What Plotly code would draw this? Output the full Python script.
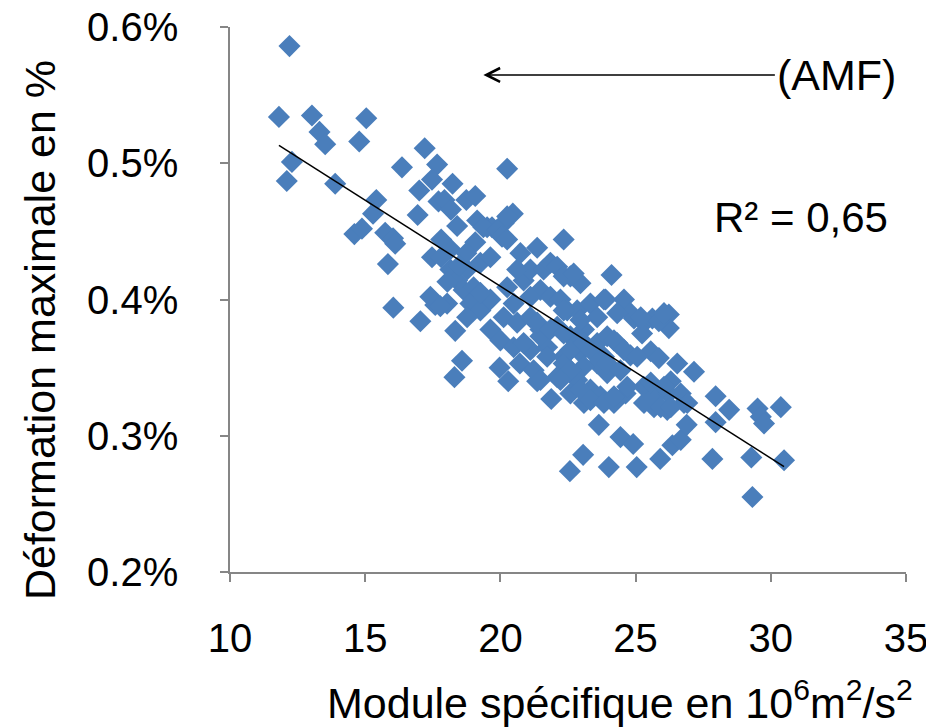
import numpy as np
import plotly.graph_objects as go

# Module spécifique (10^6 m²/s²) and déformation maximale (%)
mod_isolated = [12.20, 11.81, 13.03, 15.04, 13.31, 13.52, 14.78, 12.29, 12.10, 13.89,
                16.36, 17.20, 17.66, 17.47, 17.00, 15.41, 15.29, 16.94, 17.71, 14.60,
                14.88, 15.74, 16.03, 16.11, 15.84, 17.47, 20.25, 18.23, 17.93, 18.74,
                19.07, 18.17, 18.40, 19.14, 19.51, 20.46, 20.12, 19.69, 19.07, 22.34,
                18.15, 16.04, 17.04, 17.59, 18.03, 18.33, 18.58, 18.30, 19.97, 20.72,
                20.29, 21.36, 21.88, 23.64, 23.06, 22.57, 24.01, 25.04, 25.91, 24.44,
                24.91, 26.36, 26.67, 24.11, 27.84, 29.28, 30.49, 29.32, 27.96, 28.46,
                29.51, 29.63, 29.75, 30.37, 27.96, 26.89, 27.16, 26.54, 26.30, 26.79,
                25.68, 26.17, 24.63, 24.20, 25.30, 25.74, 26.22, 26.23, 26.23, 24.94,
                25.31, 25.62, 25.86, 25.24, 24.32, 24.81, 25.56, 25.86, 24.57, 23.89]
def_isolated = [0.586, 0.534, 0.535, 0.533, 0.523, 0.514, 0.516, 0.501, 0.487, 0.485,
                0.497, 0.511, 0.499, 0.488, 0.480, 0.473, 0.463, 0.462, 0.472, 0.448,
                0.452, 0.449, 0.445, 0.441, 0.426, 0.431, 0.496, 0.485, 0.473, 0.473,
                0.476, 0.466, 0.454, 0.458, 0.453, 0.463, 0.456, 0.453, 0.442, 0.444,
                0.437, 0.394, 0.384, 0.396, 0.397, 0.377, 0.355, 0.343, 0.350, 0.353,
                0.340, 0.340, 0.327, 0.308, 0.286, 0.274, 0.277, 0.277, 0.283, 0.299,
                0.294, 0.293, 0.297, 0.418, 0.283, 0.284, 0.282, 0.255, 0.329, 0.319,
                0.320, 0.314, 0.309, 0.321, 0.310, 0.308, 0.347, 0.353, 0.340, 0.324,
                0.321, 0.319, 0.331, 0.324, 0.336, 0.330, 0.331, 0.389, 0.379, 0.386,
                0.383, 0.386, 0.384, 0.375, 0.368, 0.359, 0.362, 0.357, 0.400, 0.400]

mod_cluster = [20.25, 19.37, 19.88, 20.06, 20.74, 21.36, 20.25, 19.26, 19.63, 18.77,
               18.15, 18.40, 18.64, 19.01, 17.41, 17.78, 18.89, 19.26, 19.63, 20.25,
               20.86, 21.11, 20.62, 21.60, 21.85, 22.10, 22.59, 22.96, 21.48, 21.85,
               22.22, 22.47, 22.84, 23.33, 23.83, 20.49, 20.12, 20.62, 21.11, 21.48,
               22.10, 22.59, 23.09, 19.63, 20.00, 20.49, 21.11, 21.73, 22.34, 22.96,
               23.58, 23.95, 19.26, 18.77, 20.86, 21.48, 21.23, 21.73, 22.34, 22.10,
               22.59, 23.09, 23.83, 22.84, 23.33, 23.09, 23.70, 23.95, 22.59, 22.34,
               22.71, 21.11, 24.81, 24.32, 25.19, 26.05, 23.58, 22.96, 22.34, 21.36,
               21.85, 22.34, 24.20, 24.57, 25.06, 23.33, 23.58, 23.09, 23.95, 24.44,
               24.69, 22.59, 22.22, 21.48, 22.96, 23.33, 23.83, 24.20, 25.56, 26.05,
               26.67, 26.91, 25.31, 25.93, 26.30, 17.81, 18.74, 18.48, 18.04, 17.81]
def_cluster = [0.461, 0.453, 0.451, 0.446, 0.434, 0.438, 0.444, 0.427, 0.431, 0.422,
               0.422, 0.414, 0.407, 0.409, 0.402, 0.395, 0.397, 0.392, 0.400, 0.409,
               0.414, 0.422, 0.422, 0.422, 0.427, 0.424, 0.417, 0.412, 0.407, 0.402,
               0.400, 0.392, 0.392, 0.397, 0.400, 0.397, 0.387, 0.383, 0.387, 0.378,
               0.380, 0.373, 0.378, 0.378, 0.370, 0.365, 0.363, 0.365, 0.358, 0.361,
               0.368, 0.373, 0.405, 0.387, 0.368, 0.373, 0.348, 0.358, 0.353, 0.343,
               0.363, 0.368, 0.358, 0.341, 0.334, 0.324, 0.329, 0.346, 0.331, 0.417,
               0.419, 0.402, 0.390, 0.390, 0.387, 0.390, 0.387, 0.385, 0.392, 0.383,
               0.378, 0.375, 0.370, 0.363, 0.358, 0.363, 0.353, 0.351, 0.353, 0.348,
               0.336, 0.348, 0.341, 0.341, 0.334, 0.326, 0.324, 0.329, 0.339, 0.336,
               0.331, 0.324, 0.324, 0.321, 0.321, 0.431, 0.434, 0.425, 0.413, 0.444]

x_ticks = [10, 15, 20, 25, 30, 35]
y_ticks = [0.002, 0.003, 0.004, 0.005, 0.006]
y_tick_labels = ["0.2%", "0.3%", "0.4%", "0.5%", "0.6%"]
r2_label = "R² = 0,65"
amf_label = "(AMF)"
x_title = "Module spécifique en 10<sup>6</sup>m<sup>2</sup>/s<sup>2</sup>"
y_title = "Déformation maximale en %"

x = np.array(mod_isolated + mod_cluster)
y = np.array(def_isolated + def_cluster) / 100.0

slope, intercept = np.polyfit(x, y, 1)
xl = np.array([x.min(), x.max()])
yl = slope * xl + intercept

FONT = "Liberation Sans"
BLUE = "#4a7ebb"
AXIS = "#868686"

fig = go.Figure()
fig.add_trace(go.Scatter(x=x, y=y, mode="markers",
                         marker=dict(symbol="diamond", size=17, color=BLUE, line=dict(width=0)),
                         hoverinfo="skip", showlegend=False, cliponaxis=False))
fig.add_trace(go.Scatter(x=xl, y=yl, mode="lines", line=dict(color="black", width=1.5),
                         hoverinfo="skip", showlegend=False))

fig.update_layout(
    width=926, height=719,
    margin=dict(l=222, r=28, t=19, b=155),
    paper_bgcolor="white", plot_bgcolor="white",
    font=dict(family=FONT, size=40, color="black"),
    showlegend=False,
)
fig.update_xaxes(range=[10, 35], tickvals=x_ticks, showgrid=False, zeroline=False,
                 showline=True, linecolor=AXIS, linewidth=1.5, automargin=False,
                 ticks="outside", ticklen=8, tickcolor=AXIS, tickwidth=1.5,
                 ticklabeloverflow="allow",
                 tickfont=dict(size=40, family=FONT), ticklabelstandoff=22)
fig.update_yaxes(range=[0.002, 0.006], tickvals=y_ticks, ticktext=y_tick_labels,
                 showgrid=False, zeroline=False, automargin=False,
                 showline=True, linecolor=AXIS, linewidth=1.5,
                 ticks="outside", ticklen=8, tickcolor=AXIS, tickwidth=1.5,
                 ticklabeloverflow="allow",
                 tickfont=dict(size=40, family=FONT), ticklabelstandoff=34)

fig.add_annotation(x=19.37, y=0.005648, xref="x", yref="y",
                   ax=30.15, ay=0.005648, axref="x", ayref="y",
                   text=amf_label, showarrow=True, arrowhead=5, arrowsize=1.8,
                   arrowwidth=1.5, arrowcolor="black",
                   font=dict(size=43, family=FONT), xanchor="left")
fig.add_annotation(x=31.1, y=0.0046, xref="x", yref="y", text=r2_label,
                   showarrow=False, font=dict(size=42, family=FONT))
fig.add_annotation(x=1.013, y=-0.235, xref="paper", yref="paper", text=x_title,
                   showarrow=False, xanchor="right", yanchor="middle",
                   font=dict(size=43, family=FONT))
fig.add_annotation(x=-0.281, y=0.444, xref="paper", yref="paper", text=y_title,
                   showarrow=False, textangle=-90, xanchor="center", yanchor="middle",
                   font=dict(size=43, family=FONT))

fig.write_html("out.html")
